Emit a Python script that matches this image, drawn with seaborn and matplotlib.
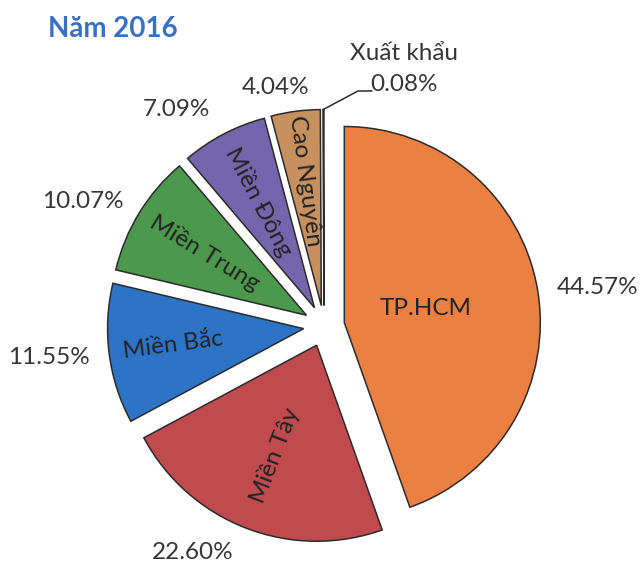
import numpy as np
import matplotlib
matplotlib.use("Agg")
import matplotlib.pyplot as plt
import seaborn as sns

# data
regions = ["TP.HCM", "Miền Tây", "Miền Bắc", "Miền Trung", "Miền Đông", "Cao Nguyên", "Xuất khẩu"]
shares = [44.57, 22.60, 11.55, 10.07, 7.09, 4.04, 0.08]
colors = ["#EC8043", "#C14A4E", "#2D73C6", "#4C984C", "#7366AC", "#C6905F", "#9A9A9A"]

# layout (label placement, radius units)
name_dist = [0.42, 0.60, 0.67, 0.61, 0.61, 0.64]
pct_pos = [(8.1, 1.407), (240.0, 1.337), (186.6, 1.412), (152.8, 1.385),
           (124.4, 1.336), (101.4, 1.243), (72.7, 1.373)]

sns.set_theme(style="white")
plt.rcParams["font.family"] = ["Lato", "DejaVu Sans"]
txt_color = "#363636"

fig = plt.figure(figsize=(6.39, 5.65), dpi=100)
ax = fig.add_axes([0, 0, 1, 1])

wedges, _ = ax.pie(
    shares,
    explode=[0.105] * len(shares),
    startangle=90,
    counterclock=False,
    colors=colors,
    wedgeprops=dict(edgecolor="#2b2b2b", linewidth=1.1),
)
ax.set_xlim(-1.653, 1.607)
ax.set_ylim(-1.219, 1.663)
ax.axis("off")

# names inside the slices
for i, (w, name) in enumerate(zip(wedges, regions)):
    if i >= len(name_dist):
        continue
    ang = (w.theta1 + w.theta2) / 2
    cx, cy = w.center
    x = cx + name_dist[i] * np.cos(np.radians(ang))
    y = cy + name_dist[i] * np.sin(np.radians(ang))
    if i == 0:
        rot = 0
    else:
        rot = (ang + 180) % 360
        if rot > 180:
            rot -= 360
        if rot > 90:
            rot -= 180
        elif rot < -90:
            rot += 180
    ax.text(x, y, name, rotation=rot, ha="center", va="center",
            fontsize=17.5, color="#242424", rotation_mode="anchor")

# percentages outside
for i, v in enumerate(shares):
    a, d = pct_pos[i]
    x = d * np.cos(np.radians(a))
    y = d * np.sin(np.radians(a))
    label = f"{v:.2f}%"
    if i == len(shares) - 1:
        label = f"{regions[i]}\n{label}"
    ax.text(x, y, label, ha="center", va="center", fontsize=17.5,
            color=txt_color, linespacing=1.6)

# leader line for the tiny slice
w = wedges[-1]
ang = np.radians((w.theta1 + w.theta2) / 2)
x0 = w.center[0] + np.cos(ang)
y0 = w.center[1] + np.sin(ang)
ax.plot([x0, 0.173, 0.245], [y0, 1.199, 1.199], color="#2b2b2b", lw=1.1)

fig.text(48 / 639, 1 - 37 / 565, "Năm 2016", fontsize=20, fontweight="bold",
         color="#3A6FC1", ha="left", va="baseline")

fig.savefig("out.png", dpi=100)
